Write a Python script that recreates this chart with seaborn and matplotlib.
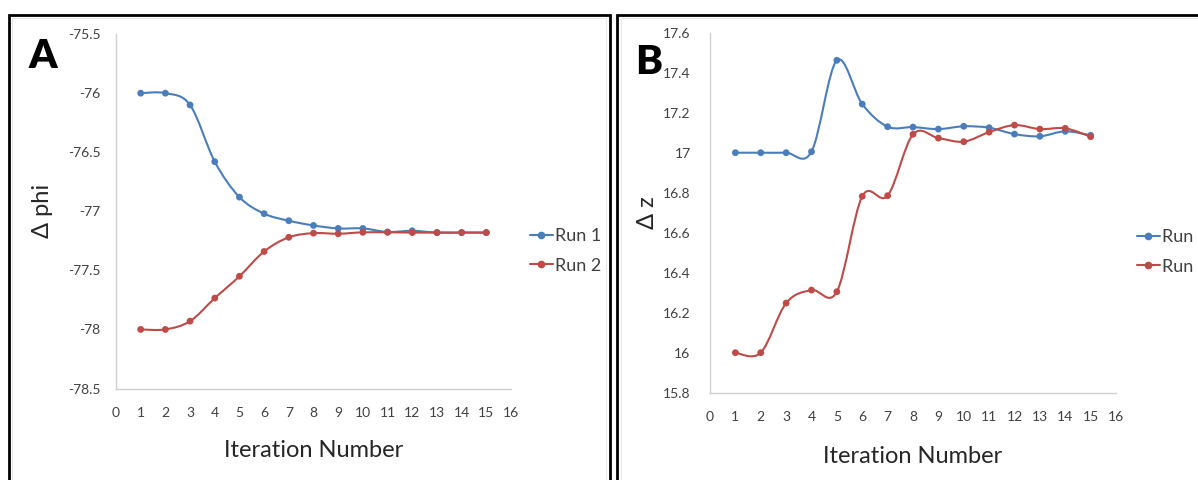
import numpy as np
import pandas as pd
import matplotlib
matplotlib.use("Agg")
import matplotlib.pyplot as plt
import seaborn as sns
from matplotlib.path import Path
from matplotlib.patches import PathPatch, Rectangle
from matplotlib.lines import Line2D

# Dados
iterations = [1, 2, 3, 4, 5, 6, 7, 8, 9, 10, 11, 12, 13, 14, 15]
phi_run1 = [-76.00, -76.00, -76.10, -76.58, -76.88, -77.02, -77.08, -77.12,
            -77.145, -77.145, -77.175, -77.165, -77.18, -77.18, -77.18]
phi_run2 = [-78.00, -78.00, -77.93, -77.735, -77.55, -77.34, -77.22, -77.185,
            -77.19, -77.178, -77.178, -77.18, -77.18, -77.18, -77.18]
z_run1 = [17.00, 17.00, 17.00, 17.005, 17.462, 17.243, 17.13, 17.128,
          17.118, 17.132, 17.125, 17.093, 17.082, 17.107, 17.087]
z_run2 = [16.00, 16.00, 16.248, 16.313, 16.305, 16.782, 16.785, 17.092,
          17.073, 17.055, 17.103, 17.138, 17.118, 17.122, 17.08]

runs = ["Run 1", "Run 2"]
run_colors = ["#4A7EBB", "#BE4B48"]
x_ticks = [0, 1, 2, 3, 4, 5, 6, 7, 8, 9, 10, 11, 12, 13, 14, 15, 16]
phi_ticks = [-78.5, -78, -77.5, -77, -76.5, -76, -75.5]
phi_tick_labels = ["-78.5", "-78", "-77.5", "-77", "-76.5", "-76", "-75.5"]
z_ticks = [15.8, 16.0, 16.2, 16.4, 16.6, 16.8, 17.0, 17.2, 17.4, 17.6]
z_tick_labels = ["15.8", "16", "16.2", "16.4", "16.6", "16.8", "17", "17.2", "17.4", "17.6"]

df_phi = pd.DataFrame({
    "iteration": iterations * 2,
    "value": phi_run1 + phi_run2,
    "run": [runs[0]] * len(iterations) + [runs[1]] * len(iterations),
})
df_z = pd.DataFrame({
    "iteration": iterations * 2,
    "value": z_run1 + z_run2,
    "run": [runs[0]] * len(iterations) + [runs[1]] * len(iterations),
})

sns.set_style("white")
plt.rcParams["font.family"] = ["Lato", "DejaVu Sans"]

W, H = 1198, 480
fig = plt.figure(figsize=(W / 100, H / 100), dpi=100)


def px_rect(left, top, right, bottom):
    return [left / W, 1 - bottom / H, (right - left) / W, (bottom - top) / H]


def smooth_path(xs, ys):
    # linha suavizada estilo Excel (Bezier tipo Catmull-Rom)
    pts = np.column_stack([xs, ys]).astype(float)
    ext = np.vstack([pts[0], pts, pts[-1]])
    verts, codes = [pts[0]], [Path.MOVETO]
    for i in range(len(pts) - 1):
        p0, p1, p2, p3 = ext[i], ext[i + 1], ext[i + 2], ext[i + 3]
        verts += [p1 + (p2 - p0) / 6, p2 - (p3 - p1) / 6, p2]
        codes += [Path.CURVE4] * 3
    return Path(verts, codes)


def draw_panel(rect, df_panel, ylim, yticks, yticklabels, ylabel, ylabel_x,
               ytick_pad, letter, letter_xy, legend_xy):
    ax = fig.add_axes(rect)
    for run, color in zip(runs, run_colors):
        sub = df_panel[df_panel["run"] == run]
        ax.add_patch(PathPatch(smooth_path(sub["iteration"], sub["value"]),
                               facecolor="none", edgecolor=color, lw=1.5, zorder=2))
    sns.scatterplot(data=df_panel, x="iteration", y="value", hue="run",
                    palette=dict(zip(runs, run_colors)), s=24, linewidth=0,
                    ax=ax, legend=False, zorder=3)
    ax.set_xlim(0, 16)
    ax.set_ylim(*ylim)
    ax.set_xticks(x_ticks)
    ax.set_yticks(yticks)
    ax.set_yticklabels(yticklabels)
    for s in ["top", "right"]:
        ax.spines[s].set_visible(False)
    for s in ["left", "bottom"]:
        ax.spines[s].set_color("#D0D0D0")
        ax.spines[s].set_linewidth(1)
    ax.tick_params(axis="both", direction="out", length=4, width=1,
                   color="#D0D0D0", labelcolor="#404040", labelsize=10)
    ax.tick_params(axis="x", pad=9)
    ax.tick_params(axis="y", pad=ytick_pad)
    ax.set_xlabel("Iteration Number", fontsize=17, color="#262626")
    ax.xaxis.label.set_va("center")
    ax.xaxis.set_label_coords(0.5, -0.176)
    ax.set_ylabel(ylabel, fontsize=17, color="#262626")
    ax.yaxis.label.set_va("center")
    ax.yaxis.set_label_coords(ylabel_x, 0.5)

    handles = [Line2D([0], [0], color=c, lw=1.5, marker="o", ms=4.5) for c in run_colors]
    ax.legend(handles=handles, labels=runs, loc="center left",
              bbox_to_anchor=(legend_xy[0] / W, 1 - legend_xy[1] / H),
              bbox_transform=fig.transFigure, frameon=False, fontsize=13,
              handlelength=1.25, handletextpad=0.15, labelspacing=0.75,
              borderpad=0, borderaxespad=0, labelcolor="#404040")
    fig.text(letter_xy[0] / W, 1 - letter_xy[1] / H, letter, fontsize=29,
             fontweight="heavy", ha="center", va="center", color="black")
    return ax


# Painel A
draw_panel(px_rect(116, 34.1, 511, 388.5), df_phi, (-78.5, -75.5), phi_ticks,
           phi_tick_labels, "Δ phi", -0.185, 7, "A", (43, 57), (530, 251))
# Painel B
draw_panel(px_rect(710, 32.7, 1116, 392.7), df_z, (15.8, 17.6), z_ticks,
           z_tick_labels, "Δ z", -0.153, 10, "B", (649, 62), (1137, 252))

# molduras pretas dos painéis
fig.add_artist(Rectangle((8.5 / W, -0.1), (609.5 - 8.5) / W, 1 - 15 / H + 0.1,
                         transform=fig.transFigure, fill=False, ec="black", lw=2))
fig.add_artist(Rectangle((617 / W, -0.1), 0.5, 1 - 15 / H + 0.1,
                         transform=fig.transFigure, fill=False, ec="black", lw=2))
fig.add_artist(Rectangle((12 / W, -0.1), (606 - 12) / W, 1 - 18 / H + 0.1,
                         transform=fig.transFigure, fill=False, ec="#E8E8E8", lw=0.8))
fig.add_artist(Rectangle((620.5 / W, -0.1), 0.5, 1 - 18 / H + 0.1,
                         transform=fig.transFigure, fill=False, ec="#E8E8E8", lw=0.8))

fig.savefig("out.png", dpi=100)
